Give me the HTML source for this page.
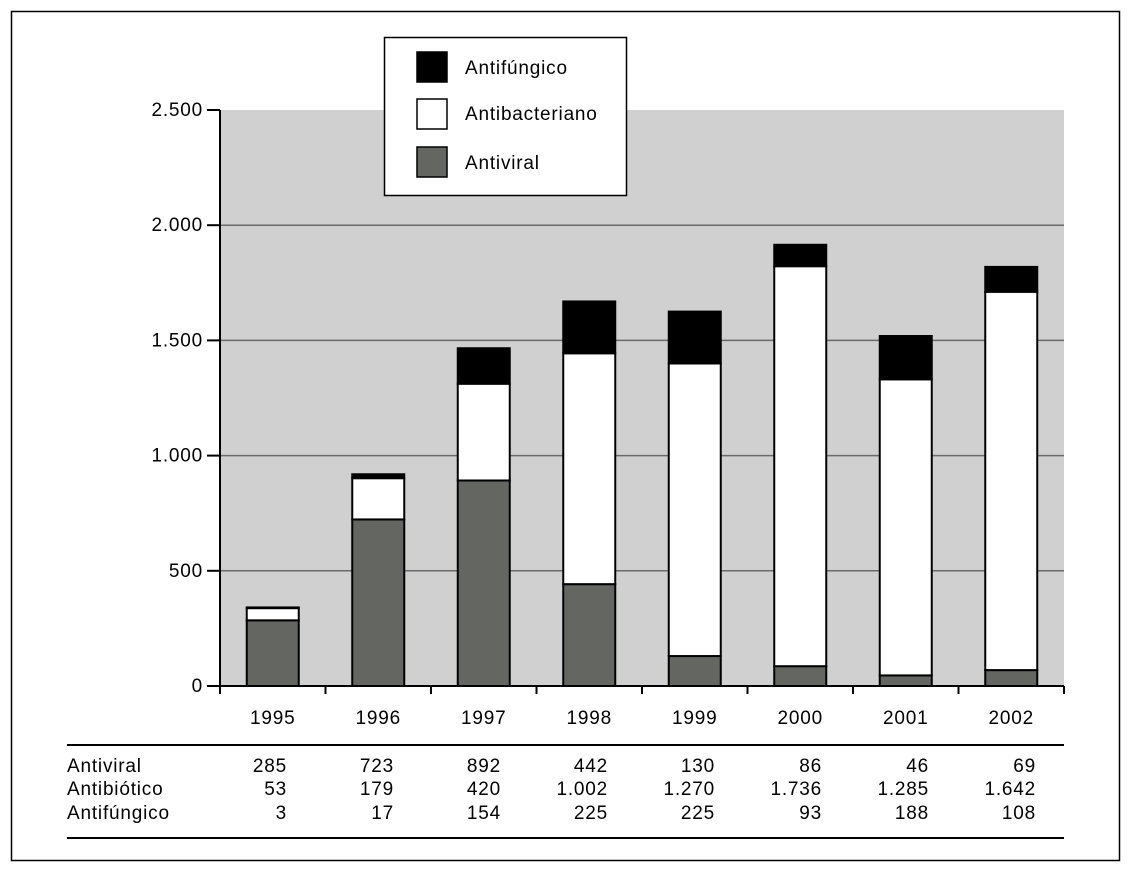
<!DOCTYPE html>
<html><head><meta charset="utf-8"><style>
body{margin:0;background:#fff;}
svg{display:block;font-family:"Liberation Sans",sans-serif;}
text{letter-spacing:0.8px;}
</style></head><body>
<svg id="c" width="1132" height="871">
<rect x="11.5" y="11.5" width="1108" height="849" fill="none" stroke="#000" stroke-width="1.5"/>
<rect x="220" y="110" width="844" height="576" fill="#d0d0d0"/>
<g id="grid"></g><g id="bars"></g><g id="axes"></g><g id="table"></g>
<g>
<rect x="384.5" y="37.5" width="242" height="158" fill="#fff" stroke="#000" stroke-width="1.5"/>
<rect x="417" y="52" width="30" height="30" fill="#000" stroke="#000" stroke-width="1.5"/>
<text x="465" y="74" font-size="19">Antifúngico</text>
<rect x="417" y="99" width="30" height="30" fill="#fff" stroke="#000" stroke-width="1.5"/>
<text x="465" y="120" font-size="19">Antibacteriano</text>
<rect x="417" y="147" width="30" height="30" fill="#646662" stroke="#000" stroke-width="1.5"/>
<text x="465" y="169" font-size="19">Antiviral</text>
</g>
</svg>
<script>
const years=["1995","1996","1997","1998","1999","2000","2001","2002"];
const antiviral=[285,723,892,442,130,86,46,69];
const antibiotico=[53,179,420,1002,1270,1736,1285,1642];
const antifungico=[3,17,154,225,225,93,188,108];
const antiviralLbl=["285","723","892","442","130","86","46","69"];
const antibioticoLbl=["53","179","420","1.002","1.270","1.736","1.285","1.642"];
const antifungicoLbl=["3","17","154","225","225","93","188","108"];
const yTicks=[0,500,1000,1500,2000,2500];
const yTickLbl=["0","500","1.000","1.500","2.000","2.500"];
const NS="http://www.w3.org/2000/svg";
const x0=220,x1=1064,y0=686,y1=110,ymax=2500;
const bw=(x1-x0)/years.length;
const y=v=>y0-(v/ymax)*(y0-y1);
const cx=i=>x0+bw*(i+0.5);
function mk(p,t,a){const e=document.createElementNS(NS,t);for(const k in a)e.setAttribute(k,a[k]);p.appendChild(e);return e;}
const G=document.getElementById('grid'),B=document.getElementById('bars'),A=document.getElementById('axes'),T=document.getElementById('table');
yTicks.forEach((v,i)=>{
 if(v>0&&v<ymax){const l=mk(G,'line',{x1:x0,x2:x1,y1:y(v),y2:y(v),stroke:'#6a6a6a','stroke-width':1.5});
 
 }
 const t=mk(A,'line',{x1:207,x2:x0,y1:y(v),y2:y(v),stroke:'#000','stroke-width':2});
 
 
 const tx=mk(A,'text',{x:203,y:y(v)+6,'font-size':19,'text-anchor':'end'});tx.textContent=yTickLbl[i];
 
 
});
const segs=[[antiviral,'#646662','antiviral'],[antibiotico,'#fff','antibacteriano'],[antifungico,'#000','antifungico']];
years.forEach((yr,i)=>{
 let base=0;
 segs.forEach(([arr,col,nm])=>{
  const top=base+arr[i];
  const r=mk(B,'rect',{x:cx(i)-26,y:y(top),width:52,height:y(base)-y(top),fill:col,stroke:'#000','stroke-width':2});
  
  
  base=top;
 });
 const lt=mk(A,'text',{x:cx(i),y:724,'font-size':19,'text-anchor':'middle'});lt.textContent=yr;
 
 
});
for(let i=0;i<=years.length;i++){
 const t=mk(A,'line',{x1:x0+bw*i,x2:x0+bw*i,y1:y0,y2:y0+8,stroke:'#000','stroke-width':2});
 
 
}
const ax=mk(A,'line',{x1:x0,x2:x1,y1:y0,y2:y0,stroke:'#000','stroke-width':2});


const ay=mk(A,'line',{x1:x0,x2:x0,y1:y1,y2:y0,stroke:'#000','stroke-width':2});


[745,838].forEach(yy=>{const l=mk(T,'line',{x1:67,x2:1064,y1:yy,y2:yy,stroke:'#000','stroke-width':2});
 
 });
const rows=[["Antiviral",antiviralLbl,772],["Antibiótico",antibioticoLbl,795],["Antifúngico",antifungicoLbl,819]];
rows.forEach(([nm,vals,yy])=>{
 const h=mk(T,'text',{x:67,y:yy,'font-size':19});h.textContent=nm;
 
 
 vals.forEach((v,i)=>{const t=mk(T,'text',{x:287+107*i,y:yy,'font-size':19,'text-anchor':'end'});t.textContent=v;
  
  });
});
</script>
</body></html>
